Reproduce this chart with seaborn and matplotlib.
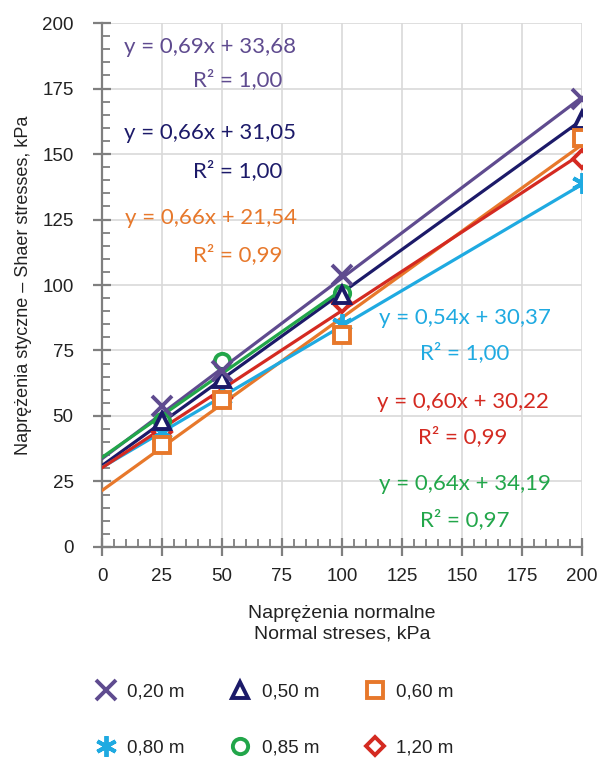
import numpy as np
import pandas as pd
import matplotlib
matplotlib.use("Agg")
import matplotlib.pyplot as plt
import seaborn as sns
from matplotlib.ticker import MultipleLocator
from matplotlib.lines import Line2D

# ---------------- data ----------------
depths = ["0,20 m", "0,50 m", "0,60 m", "0,80 m", "0,85 m", "1,20 m"]
normal_stress = [25, 50, 100, 200]
shear_020 = [54, 67, 104, 171]
shear_050 = [48, 64, 96, 163]
shear_060 = [39, 56, 81, 156]
shear_080 = [44, 57, 85, 139]
shear_085 = [48, 71, 97, np.nan]
shear_120 = [44, 57, 93, 148]
slopes = [0.69, 0.66, 0.66, 0.54, 0.64, 0.60]
intercepts = [33.68, 31.05, 21.54, 30.37, 34.19, 30.22]
equations = ["y = 0,69x + 33,68", "y = 0,66x + 31,05", "y = 0,66x + 21,54",
             "y = 0,54x + 30,37", "y = 0,64x + 34,19", "y = 0,60x + 30,22"]
eq_r2 = ["1,00", "1,00", "0,99", "1,00", "0,97", "0,99"]
x_ticks = [0, 25, 50, 75, 100, 125, 150, 175, 200]
y_ticks = [0, 25, 50, 75, 100, 125, 150, 175, 200]

# ---------------- style ----------------
colors = ["#5F4B8F", "#1C1A69", "#E7782B", "#1FAAE1", "#22A64A", "#D42A21"]
markers = ["x", "^", "s", (6, 2, 0), "o", "D"]
msizes = [14, 11, 11, 15, 11, 9]
line_art = [True, False, False, True, False, False]
marker_z = [4.5, 4.2, 4.3, 4.05, 4.1, 4.0]

shear = [shear_020, shear_050, shear_060, shear_080, shear_085, shear_120]
rows = []
for d, ys in zip(depths, shear):
    for x, y in zip(normal_stress, ys):
        if not np.isnan(y):
            rows.append({"depth": d, "normal": x, "shear": y})
df = pd.DataFrame(rows)

sns.set_style("white")
plt.rcParams["font.family"] = ["Liberation Sans", "DejaVu Sans"]

fig = plt.figure(figsize=(6, 7.6), dpi=100)
ax = fig.add_axes([0.17, 0.2803, 0.80, 0.6894])

# regression lines
for i, d in enumerate(depths):
    sub = df[df.depth == d]
    xs = np.array([0, sub.normal.max()])
    line_df = pd.DataFrame({"normal": xs, "shear": slopes[i] * xs + intercepts[i]})
    sns.lineplot(data=line_df, x="normal", y="shear", ax=ax, color=colors[i],
                 linewidth=2.3, zorder=3, legend=False)

# points
handles = []
for i, d in enumerate(depths):
    sub = df[df.depth == d]
    if line_art[i]:
        kw = dict(markeredgecolor=colors[i], markerfacecolor=colors[i])
    else:
        kw = dict(markeredgecolor=colors[i], markerfacecolor="white")
    sns.lineplot(data=sub, x="normal", y="shear", ax=ax, linestyle="none",
                 marker=markers[i], markersize=msizes[i], markeredgewidth=2.8,
                 zorder=marker_z[i], legend=False, **kw)
    handles.append(Line2D([], [], linestyle="none", marker=markers[i],
                          markersize=msizes[i], markeredgewidth=2.8, **kw))

ax.set_xlim(0, 200)
ax.set_ylim(0, 200)
ax.set_xticks(x_ticks)
ax.set_yticks(y_ticks)
ax.xaxis.set_minor_locator(MultipleLocator(5))
ax.yaxis.set_minor_locator(MultipleLocator(5))
ax.grid(True, which="major", color="#D9D9D9", linewidth=1.2, zorder=0)
ax.set_axisbelow(True)
for s in ["top", "right"]:
    ax.spines[s].set_visible(False)
for s in ["left", "bottom"]:
    ax.spines[s].set_color("#7F7F7F")
    ax.spines[s].set_linewidth(1.6)
ax.tick_params(which="major", direction="inout", length=13, width=1.6,
               color="#7F7F7F", labelsize=13.5, labelcolor="#222222")
ax.tick_params(axis="y", which="major", pad=14)
ax.tick_params(axis="x", which="major", pad=9)
ax.tick_params(which="minor", direction="in", length=6, width=1.3,
               color="#7F7F7F")
ax.tick_params(axis="x", which="both", bottom=True)
ax.tick_params(axis="y", which="both", left=True)

ax.set_xlabel("Naprężenia normalne\nNormal streses, kPa", fontsize=14,
              color="#222222", labelpad=14, linespacing=1.3)
ax.set_ylabel("Naprężenia styczne \u2013 Shaer stresses, kPa", fontsize=13,
              color="#222222", labelpad=7)

# equation labels (x-center of eq, x-center of R2, y eq, y R2 in axes fraction)
eq_pos = [(0.225, 0.282, 0.954, 0.891),
          (0.225, 0.282, 0.790, 0.719),
          (0.228, 0.282, 0.628, 0.557),
          (0.756, 0.756, 0.437, 0.370),
          (0.756, 0.756, 0.120, 0.052),
          (0.752, 0.752, 0.277, 0.210)]
for i, (eq, r, (xe, xr, ye, yr)) in enumerate(zip(equations, eq_r2, eq_pos)):
    c = colors[i]
    ax.text(xe, ye, eq, transform=ax.transAxes, ha="center", va="center",
            fontsize=16, color=c, family=["Lato", "DejaVu Sans"], zorder=5)
    ax.text(xr, yr, "R\u00b2 = " + r, transform=ax.transAxes, ha="center",
            va="center", fontsize=16, color=c, family=["Lato", "DejaVu Sans"],
            zorder=5)

# legend (row-wise order with ncol=3)
order = [0, 3, 1, 4, 2, 5]
fig.legend([handles[k] for k in order], [depths[k] for k in order],
           loc="upper left", bbox_to_anchor=(0.128, 0.123), ncol=3,
           frameon=False, fontsize=13.5, labelspacing=2.05, columnspacing=2.3,
           handletextpad=0.5, handlelength=1.3, labelcolor="#222222")

fig.savefig("out.png", dpi=100)
